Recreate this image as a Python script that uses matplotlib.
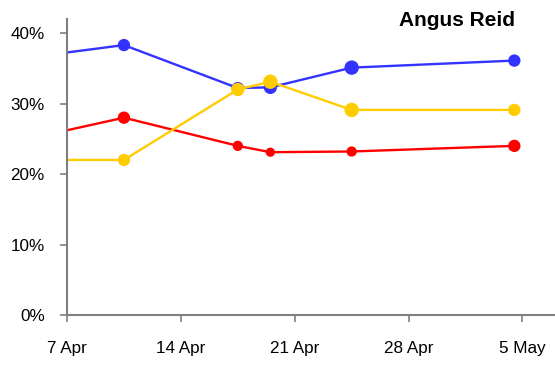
import matplotlib
matplotlib.use('Agg')
import matplotlib.pyplot as plt
import matplotlib.dates as mdates
import pandas as pd

# poll midpoints (fieldwork spans two days, so plotted at noon)
poll_dates = pd.to_datetime([
    '2010-04-01 12:00', '2010-04-10 12:00', '2010-04-17 12:00',
    '2010-04-19 12:00', '2010-04-24 12:00', '2010-05-04 12:00',
])
con = [35.6, 38.3, 32.2, 32.3, 35.1, 36.1]
lab = [23.4, 28.0, 24.0, 23.1, 23.2, 24.0]
lib = [22.0, 22.0, 32.0, 33.1, 29.1, 29.1]

tick_dates = pd.to_datetime(['2010-04-07', '2010-04-14', '2010-04-21',
                             '2010-04-28', '2010-05-05'])
tick_labels = ['7 Apr', '14 Apr', '21 Apr', '28 Apr', '5 May']
y_ticks = [0, 10, 20, 30, 40]

series = [
    (con, '#3333FF', [0, 12, 12, 13, 14, 12]),
    (lab, '#FF0000', [0, 12, 10, 9, 10, 12]),
    (lib, '#FFCC00', [0, 12, 13, 14, 14, 12]),
]

plt.rcParams['font.family'] = ['Liberation Sans', 'DejaVu Sans']

fig = plt.figure(figsize=(5.55, 3.65), dpi=100)
ax = fig.add_axes([67 / 555, 1 - 315 / 365, 1 - 67 / 555, 296 / 365])

x = mdates.date2num(poll_dates)
for values, color, diam in series:
    ax.plot(x, values, color=color, lw=1.7, zorder=2, clip_on=True)
    sizes = [(d * 0.74) ** 2 for d in diam]
    ax.scatter(x, values, s=sizes, color=color, zorder=3, linewidths=0)

ax.set_xlim(mdates.date2num(pd.Timestamp('2010-04-07')),
            mdates.date2num(pd.Timestamp('2010-05-07')))
ax.set_ylim(0, 42)

ax.set_xticks(mdates.date2num(tick_dates))
ax.set_xticklabels(tick_labels)
ax.set_yticks(y_ticks)
ax.set_yticklabels([f'{v}%' for v in y_ticks])

for side in ['top', 'right']:
    ax.spines[side].set_visible(False)
for side in ['left', 'bottom']:
    ax.spines[side].set_color('#808080')
    ax.spines[side].set_linewidth(1.5)

ax.tick_params(axis='both', colors='#808080', labelcolor='black',
               labelsize=12.3, length=5, width=1.2)
ax.tick_params(axis='x', pad=14)
ax.tick_params(axis='y', pad=11)

fig.text(457 / 555, 1 - 21 / 365, 'Angus Reid', ha='center', va='center',
         fontsize=15, fontweight='bold')

fig.savefig('out.png', dpi=100)
